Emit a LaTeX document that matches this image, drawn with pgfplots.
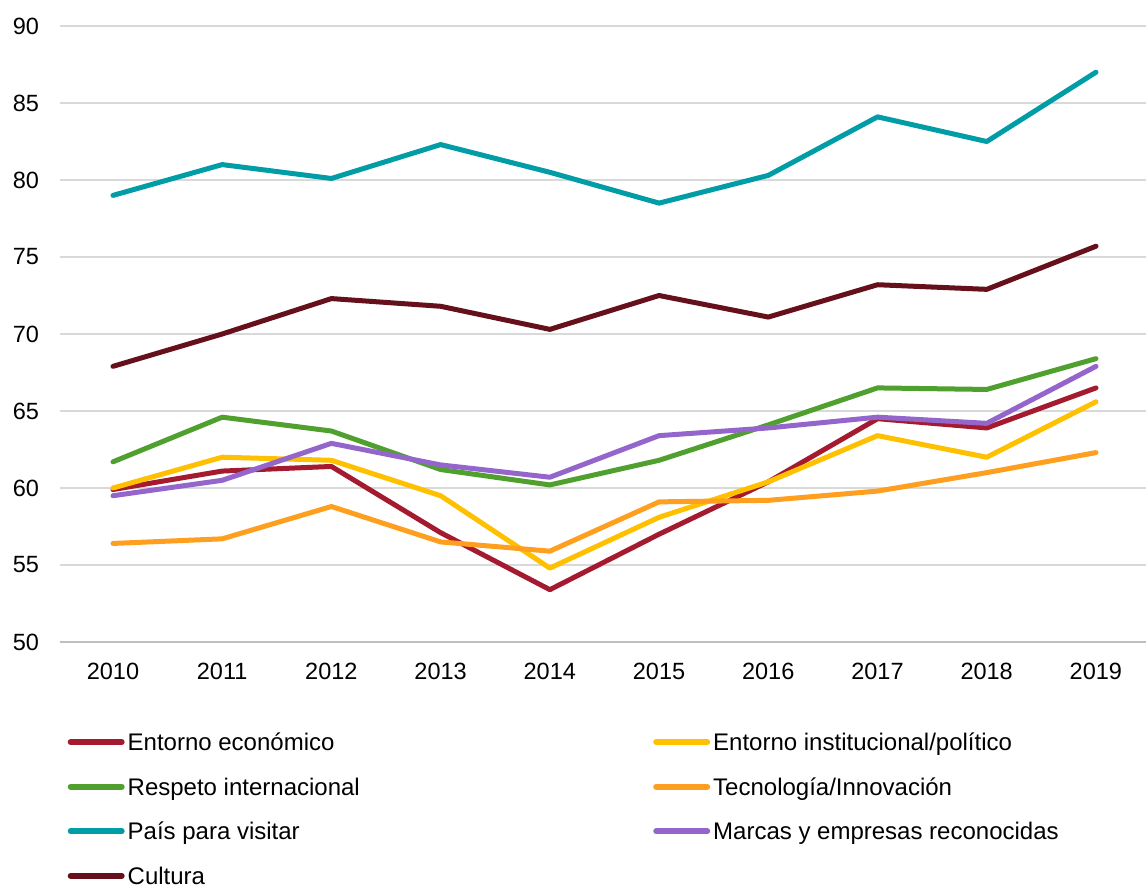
\documentclass[border=0pt]{standalone}
\usepackage{fontspec}
\setmainfont{Liberation Sans}
\usepackage{pgfplots}
\pgfplotsset{compat=1.18}
\definecolor{cEco}{HTML}{A41A2F}
\definecolor{cIns}{HTML}{FFC000}
\definecolor{cRes}{HTML}{50A030}
\definecolor{cTec}{HTML}{FF9F1F}
\definecolor{cPai}{HTML}{009DA6}
\definecolor{cMar}{HTML}{9466CC}
\definecolor{cCul}{HTML}{65101B}
\definecolor{cGrid}{HTML}{D9D9D9}
\definecolor{cAx}{HTML}{BFBFBF}
\tikzset{ser/.style={line width=5pt, line join=round, line cap=round}}
\begin{document}
\fontsize{23.5}{28.2}\selectfont
\begin{tikzpicture}
\begin{axis}[
  name=ax,
  scale only axis,
  width=1086pt, height=616pt,
  xmin=2009.515, xmax=2019.458,
  ymin=50, ymax=90,
  ytick={50,55,...,90},
  xtick={2010,...,2019},
  xticklabels={2010,2011,2012,2013,2014,2015,2016,2017,2018,2019},
  /pgf/number format/assume math mode=true,
  major tick length=0pt,
  axis line style={draw=none},
  ymajorgrids,
  grid style={cGrid, line width=1.4pt},
  yticklabel style={anchor=east, xshift=-13pt},
  xticklabel style={anchor=north, yshift=-13pt},
  clip=false,
  legend columns=2,
  legend cell align=left,
  legend image code/.code={\draw[#1, line width=6pt, line cap=round] (0pt,8.7pt) -- (51pt,8.7pt);},
  legend style={at={(0,0)}, anchor=north west, xshift=7.5pt, yshift=-91.5pt,
    draw=none, fill=none, inner sep=0pt, row sep=22.6pt,
    font=\fontsize{24}{28.8}\selectfont,
    nodes={inner xsep=3pt, inner ysep=0pt, text height=17pt, text depth=5pt, anchor=base west},
    /tikz/every odd column/.append style={column sep=0pt},
    /tikz/every even column/.append style={column sep=0pt}},
]
\draw[cAx, line width=1.4pt] (axis cs:2009.515,50) -- (axis cs:2019.458,50);
\addplot[cEco, ser] coordinates {(2010,59.9)(2011,61.1)(2012,61.4)(2013,57.1)(2014,53.4)(2015,57.0)(2016,60.4)(2017,64.5)(2018,63.9)(2019,66.5)};
\addlegendentry{\makebox[522.5pt][l]{Entorno económico}}
\addplot[cIns, ser] coordinates {(2010,60.0)(2011,62.0)(2012,61.8)(2013,59.5)(2014,54.8)(2015,58.1)(2016,60.4)(2017,63.4)(2018,62.0)(2019,65.6)};
\addlegendentry{Entorno institucional/político}
\addplot[cRes, ser] coordinates {(2010,61.7)(2011,64.6)(2012,63.7)(2013,61.2)(2014,60.2)(2015,61.8)(2016,64.1)(2017,66.5)(2018,66.4)(2019,68.4)};
\addlegendentry{\makebox[522.5pt][l]{Respeto internacional}}
\addplot[cTec, ser] coordinates {(2010,56.4)(2011,56.7)(2012,58.8)(2013,56.5)(2014,55.9)(2015,59.1)(2016,59.2)(2017,59.8)(2018,61.0)(2019,62.3)};
\addlegendentry{Tecnología/Innovación}
\addplot[cPai, ser] coordinates {(2010,79.0)(2011,81.0)(2012,80.1)(2013,82.3)(2014,80.5)(2015,78.5)(2016,80.3)(2017,84.1)(2018,82.5)(2019,87.0)};
\addlegendentry{\makebox[522.5pt][l]{País para visitar}}
\addplot[cMar, ser] coordinates {(2010,59.5)(2011,60.5)(2012,62.9)(2013,61.5)(2014,60.7)(2015,63.4)(2016,63.9)(2017,64.6)(2018,64.2)(2019,67.9)};
\addlegendentry{Marcas y empresas reconocidas}
\addplot[cCul, ser] coordinates {(2010,67.9)(2011,70.0)(2012,72.3)(2013,71.8)(2014,70.3)(2015,72.5)(2016,71.1)(2017,73.2)(2018,72.9)(2019,75.7)};
\addlegendentry{\makebox[522.5pt][l]{Cultura}}
\end{axis}
\pgfresetboundingbox
\path ([shift={(-60pt,-244pt)}]ax.south west) rectangle ([shift={(0pt,26pt)}]ax.north east);
\end{tikzpicture}
\end{document}
